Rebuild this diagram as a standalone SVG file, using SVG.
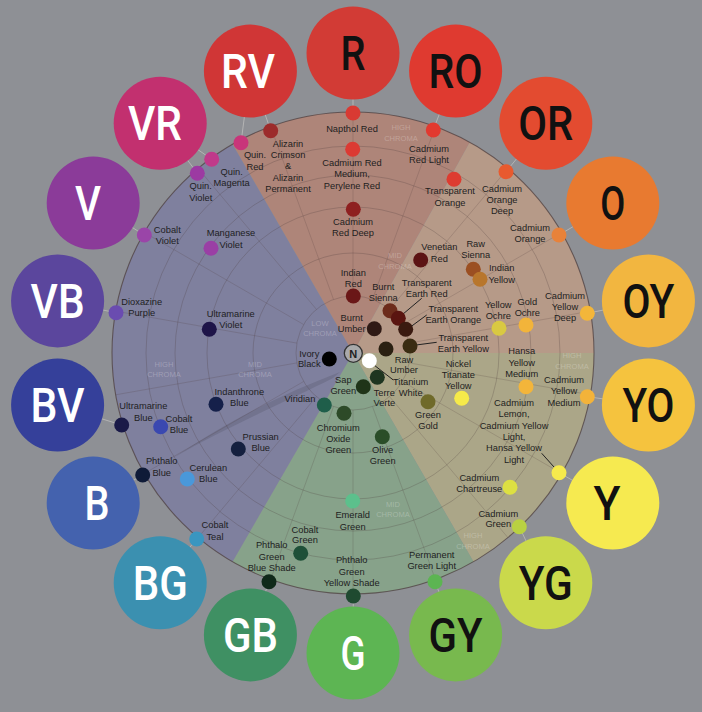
<svg xmlns="http://www.w3.org/2000/svg" width="702" height="712" viewBox="0 0 702 712">
<defs>
<style>
.l{font-family:"Liberation Sans",Arial,sans-serif;font-size:9.3px;fill:#1e1e1e;text-anchor:middle}
.c{font-family:"Liberation Sans",Arial,sans-serif;font-size:7.6px;fill:#ffffff;fill-opacity:0.25;text-anchor:middle}
.big{font-family:Roboto,"Liberation Sans",sans-serif;font-weight:500;font-size:48px;text-anchor:middle}
.w{fill:#ffffff}.k{fill:#111111}
.ring{fill:none;stroke:#4a3a3a;stroke-opacity:0.28;stroke-width:0.9}
.spoke{stroke:#4a3a3a;stroke-opacity:0.22;stroke-width:0.9}
.link{stroke:#b4b4b4;stroke-width:1}
.lead{stroke:#222;stroke-width:1}
</style>
</defs>
<rect width="702" height="712" fill="#8e9095"/>

<g id="wheel">
<path d="M353,353 L232.5,144.3 A241,241 0 0 1 469.8,142.2 Z" fill="#ae8579"/>
<path d="M353,353 L469.8,142.2 A241,241 0 0 1 594,353 Z" fill="#b69a88"/>
<path d="M353,353 L594,353 A241,241 0 0 1 473.5,561.7 Z" fill="#aba688"/>
<path d="M353,353 L473.5,561.7 A241,241 0 0 1 232.5,561.7 Z" fill="#87a28a"/>
<path d="M353,353 L232.5,561.7 A241,241 0 0 1 232.5,144.3 Z" fill="#7f809e"/>
<path d="M333,378 C290,400 230,425 173,458 C230,420 280,395 340,372 Z" fill="#3a3a4a" fill-opacity="0.18"/>
<circle cx="353" cy="353" r="57" class="ring"/>
<circle cx="353" cy="353" r="100" class="ring"/>
<circle cx="353" cy="353" r="146" class="ring"/>
<circle cx="353" cy="353" r="178" class="ring"/>
<circle cx="353" cy="353" r="207" class="ring"/>
<circle cx="353" cy="353" r="241" fill="none" stroke="#4a3a3a" stroke-opacity="0.7" stroke-width="1.1"/>
<g class="spoke">
<line x1="353" y1="296" x2="353" y2="112"/>
<line x1="372.5" y1="299.4" x2="435.4" y2="126.5"/>
<line x1="389.6" y1="309.3" x2="507.9" y2="168.4"/>
<line x1="402.4" y1="324.5" x2="561.7" y2="232.5"/>
<line x1="409.1" y1="343.1" x2="590.3" y2="311.2"/>
<line x1="409.1" y1="362.9" x2="590.3" y2="394.8"/>
<line x1="402.4" y1="381.5" x2="561.7" y2="473.5"/>
<line x1="389.6" y1="396.7" x2="507.9" y2="537.6"/>
<line x1="372.5" y1="406.6" x2="435.4" y2="579.5"/>
<line x1="353" y1="410" x2="353" y2="594"/>
<line x1="333.5" y1="406.6" x2="270.6" y2="579.5"/>
<line x1="316.4" y1="396.7" x2="198.1" y2="537.6"/>
<line x1="303.6" y1="381.5" x2="144.3" y2="473.5"/>
<line x1="296.9" y1="362.9" x2="115.7" y2="394.8"/>
<line x1="296.9" y1="343.1" x2="115.7" y2="311.2"/>
<line x1="303.6" y1="324.5" x2="144.3" y2="232.5"/>
<line x1="316.4" y1="309.3" x2="198.1" y2="168.4"/>
<line x1="333.5" y1="299.4" x2="270.6" y2="126.5"/>
</g>
<text class="c" x="401" y="129.5">HIGH<tspan x="401" dy="11">CHROMA</tspan></text>
<text class="c" x="395" y="257.8">MID<tspan x="395" dy="11">CHROMA</tspan></text>
<text class="c" x="320" y="326">LOW<tspan x="320" dy="10">CHROMA</tspan></text>
<text class="c" x="572" y="357.8">HIGH<tspan x="572" dy="11">CHROMA</tspan></text>
<text class="c" x="164" y="366.8">HIGH<tspan x="164" dy="10.5">CHROMA</tspan></text>
<text class="c" x="255" y="366.8">MID<tspan x="255" dy="10.5">CHROMA</tspan></text>
<text class="c" x="393" y="506.8">MID<tspan x="393" dy="10.5">CHROMA</tspan></text>
<text class="c" x="473" y="537.8">HIGH<tspan x="473" dy="11">CHROMA</tspan></text>
</g>

<g id="connectors">
<line class="link" x1="353" y1="113" x2="353" y2="53"/>
<line class="link" x1="433.3" y1="130" x2="455.6" y2="71.1"/>
<line class="link" x1="506" y1="171.7" x2="545.8" y2="123.2"/>
<line class="link" x1="559" y1="235" x2="612.8" y2="203"/>
<line class="link" x1="587.3" y1="313.3" x2="648.4" y2="300.9"/>
<line class="link" x1="587.3" y1="396.7" x2="648.4" y2="405.1"/>
<line class="link" x1="559" y1="472.7" x2="612.8" y2="503"/>
<line class="link" x1="519.3" y1="526.7" x2="545.8" y2="582.8"/>
<line class="link" x1="435" y1="581.7" x2="455.6" y2="634.9"/>
<line class="link" x1="353.3" y1="596" x2="353" y2="653"/>
<line class="link" x1="269" y1="581.7" x2="250.4" y2="634.9"/>
<line class="link" x1="196.7" y1="539" x2="160.2" y2="582.8"/>
<line class="link" x1="142.7" y1="475" x2="93.2" y2="503"/>
<line class="link" x1="121.7" y1="425" x2="57.6" y2="405.1"/>
<line class="link" x1="116" y1="312.7" x2="57.6" y2="300.9"/>
<line class="link" x1="144.3" y1="235" x2="93.2" y2="203"/>
<line class="link" x1="197.3" y1="173.3" x2="160.2" y2="123.2"/>
<line class="link" x1="211.7" y1="159.3" x2="160.2" y2="123.2"/>
<line class="link" x1="270.7" y1="130.7" x2="250.4" y2="71.1"/>
<line class="link" x1="241" y1="142.7" x2="250.4" y2="71.1"/>
<line class="lead" x1="400.7" y1="316" x2="421.7" y2="298.3"/>
<line class="lead" x1="410" y1="327.3" x2="426.7" y2="315"/>
<line class="lead" x1="416" y1="345" x2="436.7" y2="342.3"/>
<line class="lead" x1="372.7" y1="364" x2="393.3" y2="380"/>
<line class="lead" x1="541.7" y1="453.3" x2="557.3" y2="470.7"/>
</g>

<g id="hue-R"><circle cx="353" cy="53" r="46.5" fill="#d23b35"/><text class="big k" x="353" y="70" textLength="25" lengthAdjust="spacingAndGlyphs">R</text></g>
<g id="hue-RO"><circle cx="455.6" cy="71.1" r="46.5" fill="#df3a30"/><text class="big k" x="455.6" y="88.1" textLength="54" lengthAdjust="spacingAndGlyphs">RO</text></g>
<g id="hue-OR"><circle cx="545.8" cy="123.2" r="46.5" fill="#e34b30"/><text class="big k" x="545.8" y="140.2" textLength="55" lengthAdjust="spacingAndGlyphs">OR</text></g>
<g id="hue-O"><circle cx="612.8" cy="203" r="46.5" fill="#e87a30"/><text class="big k" x="612.8" y="220" textLength="25" lengthAdjust="spacingAndGlyphs">O</text></g>
<g id="hue-OY"><circle cx="648.4" cy="300.9" r="46.5" fill="#f2b640"/><text class="big k" x="648.4" y="317.9" textLength="52" lengthAdjust="spacingAndGlyphs">OY</text></g>
<g id="hue-YO"><circle cx="648.4" cy="405.1" r="46.5" fill="#f5c33e"/><text class="big k" x="648.4" y="422.1" textLength="52" lengthAdjust="spacingAndGlyphs">YO</text></g>
<g id="hue-Y"><circle cx="612.8" cy="503" r="46.5" fill="#f6ea50"/><text class="big k" x="607" y="520" textLength="27" lengthAdjust="spacingAndGlyphs">Y</text></g>
<g id="hue-YG"><circle cx="545.8" cy="582.8" r="46.5" fill="#cad94b"/><text class="big k" x="545.8" y="599.8" textLength="54" lengthAdjust="spacingAndGlyphs">YG</text></g>
<g id="hue-GY"><circle cx="455.6" cy="634.9" r="46.5" fill="#78b94e"/><text class="big k" x="455.6" y="651.9" textLength="54" lengthAdjust="spacingAndGlyphs">GY</text></g>
<g id="hue-G"><circle cx="353" cy="653" r="46.5" fill="#5db553"/><text class="big w" x="353" y="670" textLength="25" lengthAdjust="spacingAndGlyphs">G</text></g>
<g id="hue-GB"><circle cx="250.4" cy="634.9" r="46.5" fill="#3f9063"/><text class="big w" x="250.4" y="651.9" textLength="55" lengthAdjust="spacingAndGlyphs">GB</text></g>
<g id="hue-BG"><circle cx="160.2" cy="582.8" r="46.5" fill="#3b90b0"/><text class="big w" x="160.2" y="599.8" textLength="55" lengthAdjust="spacingAndGlyphs">BG</text></g>
<g id="hue-B"><circle cx="93.2" cy="503" r="46.5" fill="#4462ae"/><text class="big w" x="97" y="520" textLength="25" lengthAdjust="spacingAndGlyphs">B</text></g>
<g id="hue-BV"><circle cx="57.6" cy="405.1" r="46.5" fill="#35409a"/><text class="big w" x="57.6" y="422.1" textLength="54" lengthAdjust="spacingAndGlyphs">BV</text></g>
<g id="hue-VB"><circle cx="57.6" cy="300.9" r="46.5" fill="#5b469d"/><text class="big w" x="57.6" y="317.9" textLength="54" lengthAdjust="spacingAndGlyphs">VB</text></g>
<g id="hue-V"><circle cx="93.2" cy="203" r="46.5" fill="#8b3b99"/><text class="big w" x="88" y="220" textLength="26" lengthAdjust="spacingAndGlyphs">V</text></g>
<g id="hue-VR"><circle cx="160.2" cy="123.2" r="46.5" fill="#c2306f"/><text class="big w" x="155" y="140.2" textLength="54" lengthAdjust="spacingAndGlyphs">VR</text></g>
<g id="hue-RV"><circle cx="250.4" cy="71.1" r="46.5" fill="#d03636"/><text class="big w" x="248" y="88.1" textLength="54" lengthAdjust="spacingAndGlyphs">RV</text></g>

<g id="napthol-red"><circle cx="353" cy="113" r="7.5" fill="#d93a33"/><text class="l" x="352" y="131.6">Napthol Red</text></g>
<g id="cadmium-red-medium"><circle cx="352.7" cy="149.3" r="7.5" fill="#dc3a33"/><text class="l" x="352" y="166">Cadmium Red<tspan x="352" dy="11.3">Medium,</tspan><tspan x="352" dy="11.3">Perylene Red</tspan></text></g>
<g id="cadmium-red-deep"><circle cx="353.3" cy="209.3" r="7.5" fill="#8e2020"/><text class="l" x="353" y="225">Cadmium<tspan x="353" dy="11.3">Red Deep</tspan></text></g>
<g id="cadmium-red-light"><circle cx="433.3" cy="130" r="7.5" fill="#e2392f"/><text class="l" x="429" y="151.6">Cadmium<tspan x="429" dy="11.5">Red Light</tspan></text></g>
<g id="transparent-orange"><circle cx="454" cy="179.3" r="7.5" fill="#dd3c30"/><text class="l" x="450" y="194.3">Transparent<tspan x="450" dy="11.5">Orange</tspan></text></g>
<g id="cadmium-orange-deep"><circle cx="506" cy="171.7" r="7.5" fill="#e85a2e"/><text class="l" x="502" y="191.6">Cadmium<tspan x="502" dy="11.2">Orange</tspan><tspan x="502" dy="11.2">Deep</tspan></text></g>
<g id="cadmium-orange"><circle cx="559" cy="235" r="7.5" fill="#e8823a"/><text class="l" x="530" y="230.6">Cadmium<tspan x="530" dy="11">Orange</tspan></text></g>
<g id="alizarin"><circle cx="270.7" cy="130.7" r="7.5" fill="#9c2b2b"/><text class="l" x="288" y="146.6">Alizarin<tspan x="288" dy="11.3">Crimson</tspan><tspan x="288" dy="11.3">&amp;</tspan><tspan x="288" dy="11.3">Alizarin</tspan><tspan x="288" dy="11.3">Permanent</tspan></text></g>
<g id="quin-red"><circle cx="241" cy="142.7" r="7.5" fill="#c8357a"/><text class="l" x="255" y="158.3">Quin.<tspan x="255" dy="11.5">Red</tspan></text></g>
<g id="quin-magenta"><circle cx="211.7" cy="159.3" r="7.5" fill="#c0398a"/><text class="l" x="231.7" y="175">Quin.<tspan x="231.7" dy="11">Magenta</tspan></text></g>
<g id="quin-violet"><circle cx="197.3" cy="173.3" r="7.5" fill="#9c3aa2"/><text class="l" x="200.7" y="189.3">Quin.<tspan x="200.7" dy="11.3">Violet</tspan></text></g>
<g id="cobalt-violet"><circle cx="144.3" cy="235" r="7.5" fill="#9a45a8"/><text class="l" x="167.3" y="233.3">Cobalt<tspan x="167.3" dy="11">Violet</tspan></text></g>
<g id="manganese-violet"><circle cx="211" cy="248.3" r="7.5" fill="#9a3fa5"/><text class="l" x="231" y="236.3">Manganese<tspan x="231" dy="11.2">Violet</tspan></text></g>
<g id="dioxazine-purple"><circle cx="116" cy="312.7" r="7.5" fill="#6a4cb0"/><text class="l" x="141.7" y="305">Dioxazine<tspan x="141.7" dy="11">Purple</tspan></text></g>
<g id="ultramarine-violet"><circle cx="209.3" cy="329.3" r="7.5" fill="#1e1448"/><text class="l" x="230.7" y="317.3">Ultramarine<tspan x="230.7" dy="10.5">Violet</tspan></text></g>
<g id="indian-red"><circle cx="353.3" cy="296" r="7.5" fill="#6a1717"/><text class="l" x="353.3" y="276">Indian<tspan x="353.3" dy="10.7">Red</tspan></text></g>
<g id="venetian-red"><circle cx="420.7" cy="260" r="7.5" fill="#5c1414"/><text class="l" x="439.3" y="250">Venetian<tspan x="439.3" dy="11.5">Red</tspan></text></g>
<g id="raw-sienna"><circle cx="473.3" cy="269.3" r="7.5" fill="#9b4f22"/><text class="l" x="475.7" y="246.6">Raw<tspan x="475.7" dy="11">Sienna</tspan></text></g>
<g id="indian-yellow"><circle cx="480" cy="279.3" r="7.5" fill="#b8762c"/><text class="l" x="501.7" y="271">Indian<tspan x="501.7" dy="11.5">Yellow</tspan></text></g>
<g id="burnt-sienna"><circle cx="390" cy="310.7" r="7.5" fill="#6c2c1b"/><text class="l" x="383.3" y="290">Burnt<tspan x="383.3" dy="11">Sienna</tspan></text></g>
<g id="transparent-earth-red"><circle cx="398.3" cy="318.3" r="7.5" fill="#5a1510"/><text class="l" x="426.7" y="285.6">Transparent<tspan x="426.7" dy="11">Earth Red</tspan></text></g>
<g id="transparent-earth-orange"><circle cx="405.7" cy="329.3" r="7.5" fill="#3a1a10"/><text class="l" x="453.3" y="312.3">Transparent<tspan x="453.3" dy="11">Earth Orange</tspan></text></g>
<g id="transparent-earth-yellow"><circle cx="410" cy="346" r="7.5" fill="#3a2c12"/><text class="l" x="463.3" y="340.6">Transparent<tspan x="463.3" dy="11">Earth Yellow</tspan></text></g>
<g id="burnt-umber"><circle cx="374.3" cy="328.7" r="7.5" fill="#2f1a15"/><text class="l" x="351.7" y="320.6">Burnt<tspan x="351.7" dy="11.5">Umber</tspan></text></g>
<g id="raw-umber"><circle cx="386" cy="349" r="7.5" fill="#2a2012"/><text class="l" x="404" y="362.6">Raw<tspan x="404" dy="10.7">Umber</tspan></text></g>
<g id="yellow-ochre"><circle cx="499" cy="328.3" r="7.5" fill="#d9c942"/><text class="l" x="498.3" y="308.3">Yellow<tspan x="498.3" dy="11">Ochre</tspan></text></g>
<g id="gold-ochre"><circle cx="526" cy="325" r="7.5" fill="#f2b43a"/><text class="l" x="527.3" y="305">Gold<tspan x="527.3" dy="11">Ochre</tspan></text></g>
<g id="cadmium-yellow-deep"><circle cx="587.3" cy="313.3" r="7.5" fill="#f3b63a"/><text class="l" x="565" y="299">Cadmium<tspan x="565" dy="11.2">Yellow</tspan><tspan x="565" dy="11.2">Deep</tspan></text></g>
<g id="neutral"><circle cx="353.3" cy="353.3" r="9" fill="#a9a9ab" stroke="#333" stroke-width="1.3"/><text x="353.3" y="357.6" text-anchor="middle" font-family="Liberation Sans,Arial,sans-serif" font-weight="bold" font-size="11" fill="#222">N</text></g>
<g id="ivory-black"><circle cx="329.3" cy="359" r="7.5" fill="#000000"/><text class="l" x="309.3" y="356.6">Ivory<tspan x="309.3" dy="10.5">Black</tspan></text></g>
<g id="titanium-white"><circle cx="369.3" cy="360.7" r="7.5" fill="#ffffff"/><text class="l" x="410.7" y="385">Titanium<tspan x="410.7" dy="10.7">White</tspan></text></g>
<g id="sap-green"><circle cx="363.3" cy="386.7" r="7.5" fill="#1f3418"/><text class="l" x="343.3" y="382.6">Sap<tspan x="343.3" dy="11.3">Green</tspan></text></g>
<g id="terre-verte"><circle cx="377.3" cy="377.3" r="7.5" fill="#1e3520"/><text class="l" x="384.3" y="395.6">Terre<tspan x="384.3" dy="10">Verte</tspan></text></g>
<g id="viridian"><circle cx="324.3" cy="405" r="7.5" fill="#1f5e4a"/><text class="l" x="300" y="401.6">Viridian</text></g>
<g id="chromium-oxide-green"><circle cx="344" cy="413.3" r="7.5" fill="#2d4a28"/><text class="l" x="338.3" y="431">Chromium<tspan x="338.3" dy="11.2">Oxide</tspan><tspan x="338.3" dy="11.2">Green</tspan></text></g>
<g id="olive-green"><circle cx="382.3" cy="436.7" r="7.5" fill="#2a4d28"/><text class="l" x="382.7" y="453.3">Olive<tspan x="382.7" dy="11">Green</tspan></text></g>
<g id="green-gold"><circle cx="428" cy="401.7" r="7.5" fill="#6f6a2a"/><text class="l" x="428" y="418.3">Green<tspan x="428" dy="11">Gold</tspan></text></g>
<g id="nickel-titanate-yellow"><circle cx="461.7" cy="398.3" r="7.5" fill="#f6ea4a"/><text class="l" x="458.3" y="366.6">Nickel<tspan x="458.3" dy="11.2">Titanate</tspan><tspan x="458.3" dy="11.2">Yellow</tspan></text></g>
<g id="hansa-yellow-medium"><circle cx="526" cy="386.7" r="7.5" fill="#f3b53a"/><text class="l" x="521.7" y="354.3">Hansa<tspan x="521.7" dy="11.2">Yellow</tspan><tspan x="521.7" dy="11.2">Medium</tspan></text></g>
<g id="cadmium-yellow-medium"><circle cx="587.3" cy="396.7" r="7.5" fill="#f3b33a"/><text class="l" x="564" y="382.6">Cadmium<tspan x="564" dy="11.5">Yellow</tspan><tspan x="564" dy="11.5">Medium</tspan></text></g>
<g id="cadmium-lemon"><circle cx="559" cy="472.7" r="7.5" fill="#f6ea4c"/><text class="l" x="514" y="406">Cadmium<tspan x="514" dy="11.3">Lemon,</tspan><tspan x="514" dy="11.3">Cadmium Yellow</tspan><tspan x="514" dy="11.3">Light,</tspan><tspan x="514" dy="11.3">Hansa Yellow</tspan><tspan x="514" dy="11.3">Light</tspan></text></g>
<g id="cadmium-chartreuse"><circle cx="510" cy="487.3" r="7.5" fill="#dde042"/><text class="l" x="479.3" y="481">Cadmium<tspan x="479.3" dy="11">Chartreuse</tspan></text></g>
<g id="cadmium-green"><circle cx="519.3" cy="526.7" r="7.5" fill="#b9d142"/><text class="l" x="498.3" y="516.6">Cadmium<tspan x="498.3" dy="10.8">Green</tspan></text></g>
<g id="permanent-green-light"><circle cx="435" cy="581.7" r="7.5" fill="#5cb552"/><text class="l" x="431.7" y="558.3">Permanent<tspan x="431.7" dy="11">Green Light</tspan></text></g>
<g id="emerald-green"><circle cx="352.7" cy="501" r="7.5" fill="#5cc08c"/><text class="l" x="352.7" y="518.3">Emerald<tspan x="352.7" dy="11.5">Green</tspan></text></g>
<g id="phthalo-green-yellow-shade"><circle cx="353.3" cy="596" r="7.5" fill="#1f4a30"/><text class="l" x="351.7" y="563.3">Phthalo<tspan x="351.7" dy="11.2">Green</tspan><tspan x="351.7" dy="11.2">Yellow Shade</tspan></text></g>
<g id="cobalt-green"><circle cx="300.7" cy="553.3" r="7.5" fill="#1e5038"/><text class="l" x="305" y="532.6">Cobalt<tspan x="305" dy="10.8">Green</tspan></text></g>
<g id="phthalo-green-blue-shade"><circle cx="269" cy="581.7" r="7.5" fill="#10291a"/><text class="l" x="271.7" y="548.3">Phthalo<tspan x="271.7" dy="11.4">Green</tspan><tspan x="271.7" dy="11.4">Blue Shade</tspan></text></g>
<g id="cobalt-teal"><circle cx="196.7" cy="539" r="7.5" fill="#3a96c0"/><text class="l" x="215" y="528.3">Cobalt<tspan x="215" dy="11.5">Teal</tspan></text></g>
<g id="cerulean-blue"><circle cx="187.3" cy="479" r="7.5" fill="#4a98da"/><text class="l" x="208.3" y="470.6">Cerulean<tspan x="208.3" dy="11.5">Blue</tspan></text></g>
<g id="phthalo-blue"><circle cx="142.7" cy="475" r="7.5" fill="#0f1b38"/><text class="l" x="161.7" y="464">Phthalo<tspan x="161.7" dy="11.5">Blue</tspan></text></g>
<g id="prussian-blue"><circle cx="238.3" cy="449" r="7.5" fill="#15203f"/><text class="l" x="260.7" y="440">Prussian<tspan x="260.7" dy="11">Blue</tspan></text></g>
<g id="ultramarine-blue"><circle cx="121.7" cy="425" r="7.5" fill="#1a1a48"/><text class="l" x="143.3" y="409.3">Ultramarine<tspan x="143.3" dy="11.3">Blue</tspan></text></g>
<g id="cobalt-blue"><circle cx="160.7" cy="426.7" r="7.5" fill="#3a48b0"/><text class="l" x="179" y="422.3">Cobalt<tspan x="179" dy="11">Blue</tspan></text></g>
<g id="indanthrone-blue"><circle cx="216" cy="404.3" r="7.5" fill="#15204a"/><text class="l" x="239.3" y="395">Indanthrone<tspan x="239.3" dy="11">Blue</tspan></text></g>
</svg>
